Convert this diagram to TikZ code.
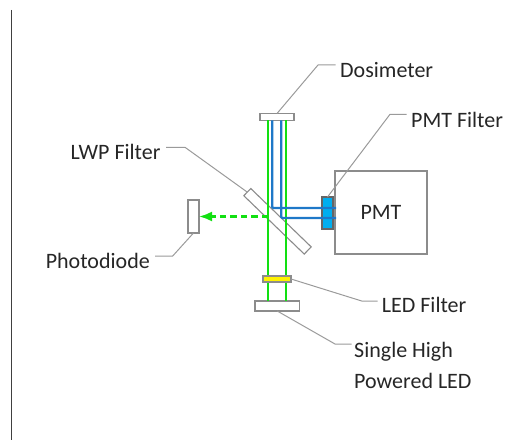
\documentclass[tikz,border=0pt]{standalone}
\usepackage{fontspec}
\setmainfont{Carlito}
\usetikzlibrary{arrows.meta}
\definecolor{gbox}{HTML}{8C8C8C}
\definecolor{lead}{HTML}{9A9A9A}
\definecolor{beam}{HTML}{12E012}
\definecolor{bluebeam}{HTML}{1F78C8}
\definecolor{filterblue}{HTML}{00AEEF}
\tikzset{
  x=1pt,y=-1pt,
  part/.style={draw=gbox,line width=1.1pt,fill=white,inner sep=0pt,outer sep=0pt,rectangle},
  leader/.style={draw=lead,line width=1pt},
  lab/.style={font=\fontsize{22}{24}\selectfont,text=black!85,inner sep=0pt},
  gbeam/.style={draw=beam,line width=2.3pt},
  bbeam/.style={draw=bluebeam,line width=2.3pt}
}
\begin{document}
\begin{tikzpicture}
\useasboundingbox (0,0) rectangle (525,441);
\draw[line width=0.9pt,black!75] (11.5,10) -- (11.5,440);
% parts
\node[part,minimum width=92pt,minimum height=83pt] (pmt) at (381,212.5) {};
\node[lab,anchor=base] at (381,219.5) {PMT};
\node[part,minimum width=34pt,minimum height=7pt] (dos) at (277,117) {};
\node[part,minimum width=44.5pt,minimum height=10pt] (led) at (277.2,306) {};
\node[part,minimum width=11pt,minimum height=33pt] (pd) at (193.5,216.5) {};
\node[part,minimum width=10pt,minimum height=84pt,rotate=46] (lwp) at (277.5,221.3) {};
% named beam ends
\path (dos.south) ++(-9,0) coordinate (g1t) ++(18,0) coordinate (g2t);
\path (dos.south) ++(-4.7,0) coordinate (b1t) ++(9,0) coordinate (b2t);
\path (led.north) ++(-9.2,0) coordinate (g1b) ++(18,0) coordinate (g2b);
\coordinate (b1e) at (336,208);
\coordinate (b2e) at (336,218);
\coordinate (arrs) at (268,216.5);
% beams
\draw[gbeam] (g1t) -- (g1b);
\draw[gbeam] (g2t) -- (g2b);
\node[part,fill=yellow,minimum width=28pt,minimum height=6pt] (ledf) at (277,279) {};
\node[part,draw=black!60,fill=filterblue,minimum width=11pt,minimum height=32pt] (pmtf) at (327.5,213) {};
\draw[bbeam,rounded corners=1pt] (b1t) -- (b1t |- b1e) -- (b1e);
\draw[bbeam,rounded corners=1pt] (b2t) -- (b2t |- b2e) -- (b2e);
\draw[beam,line width=2.2pt,dash pattern=on 6.5pt off 4pt,-{Latex[length=13pt,width=10pt]}] (arrs) -- (pd.east);
% labels
\node[lab,anchor=base west] (tdos) at (340,77.7) {Dosimeter};
\node[lab,anchor=base west] (tpmtf) at (411,127.7) {PMT Filter};
\node[lab,anchor=base east] (tlwp) at (160.7,159.5) {LWP Filter};
\node[lab,anchor=base east] (tpd) at (150,268) {Photodiode};
\node[lab,anchor=base west] (tledf) at (381.7,312) {LED Filter};
\node[lab,anchor=base west] (tled1) at (354,357) {Single High};
\node[lab,anchor=base west] (tled2) at (354,388.3) {Powered LED};
% leaders
\draw[leader] (dos.north) -- (318,65) -- (335.7,65);
\draw[leader] (pmtf.north) -- (390,114.3) -- (406.7,114.3);
\draw[leader] (166,147.3) -- (185,147.3) -- (lwp.north);
\draw[leader] (pd.south) -- (172.7,256) -- (155,256);
\draw[leader] (ledf.east) -- (361.7,301) -- (377.7,301);
\draw[leader] (led.south) -- (335,344) -- (351.7,344);
\end{tikzpicture}
\end{document}
